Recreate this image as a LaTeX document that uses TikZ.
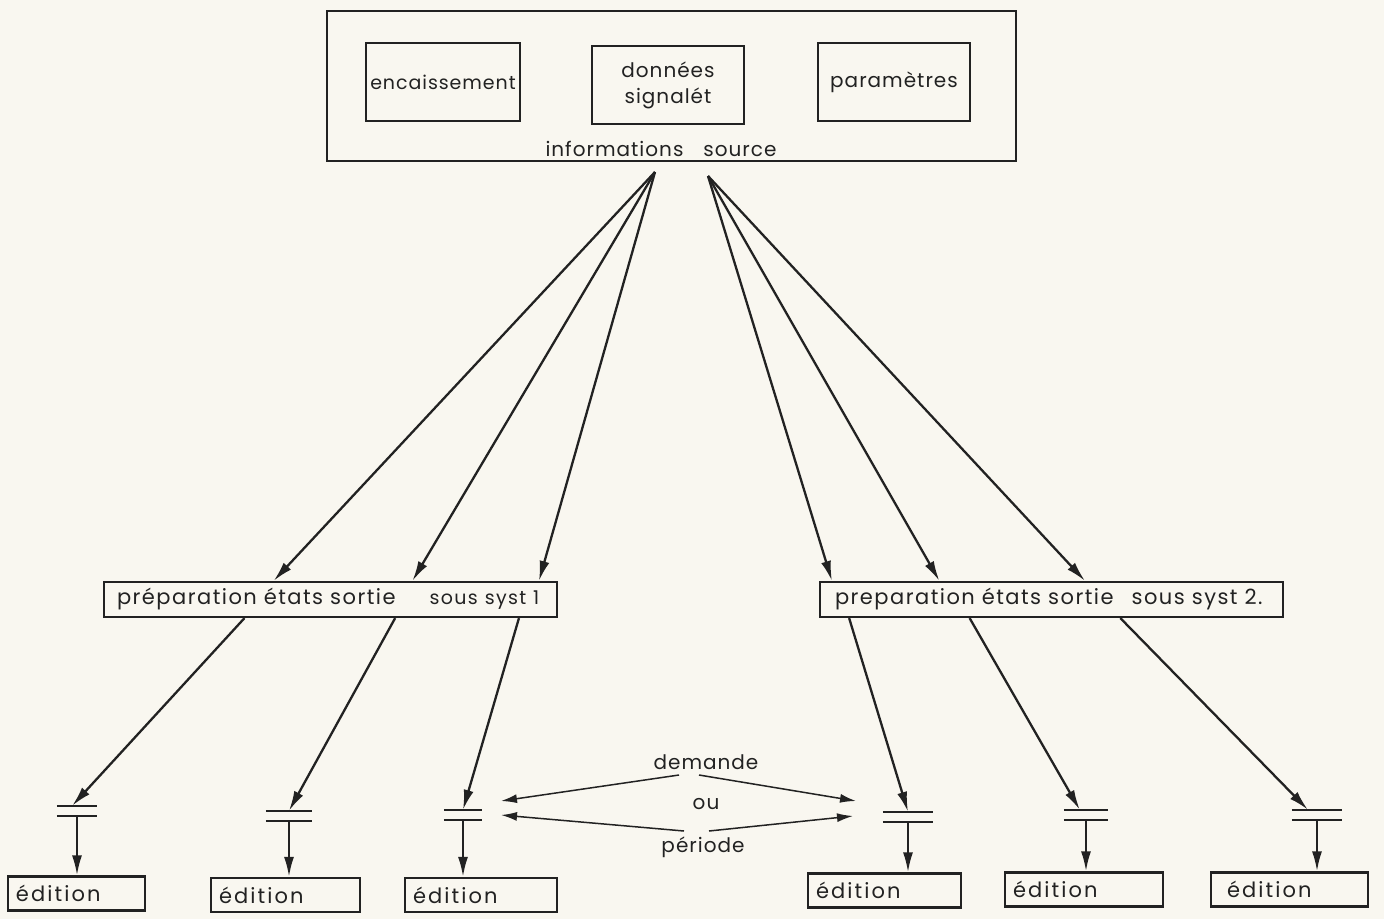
\documentclass[tikz,border=0pt]{standalone}
\usepackage{fontspec}
\setmainfont{Poppins}[LetterSpace=5]
\usetikzlibrary{arrows.meta,calc}
\definecolor{paper}{RGB}{249,247,240}
\definecolor{ink}{RGB}{34,34,34}

\begin{document}
\begin{tikzpicture}[x=1pt,y=-1pt,
  box/.style={draw=ink,line width=2.2pt,rectangle,inner sep=0pt,text=ink},
  txt/.style={text=ink,inner sep=0pt,font=\fontsize{20}{25}\selectfont},
  edbox/.style={box,minimum height=34pt,text width=#1-16pt,minimum width=#1,
                inner xsep=8pt,align=left,font=\fontsize{21}{24}\selectfont\addfontfeatures{LetterSpace=10}},
  flow/.style={draw=ink,line width=2.3pt,-{Latex[length=20pt,width=10pt]}},
  thin/.style={draw=ink,line width=1.5pt,-{Latex[length=16pt,width=9pt]}},
  trig/.style={minimum width=#1,minimum height=10pt,inner sep=0pt}
]
\fill[paper] (0,0) rectangle (1384,919);
\useasboundingbox (0,0) rectangle (1384,919);

% source information block
\node[box,minimum width=689pt,minimum height=150pt] (src) at (671.5,86) {};
\node[box,minimum width=154pt,minimum height=78pt,font=\fontsize{19}{25}\selectfont] (enc) at (443,82) {encaissement};
\node[box,minimum width=152pt,minimum height=78pt,align=center,font=\fontsize{20}{26}\selectfont] (don) at (668,85) {données\\signalét};
\node[box,minimum width=152pt,minimum height=78pt,font=\fontsize{20}{25}\selectfont] (par) at (894,82) {paramètres};
\node[txt] (srclbl) at (661,149) {informations\hspace{20pt}source};
\coordinate (srcL) at (655,172);
\coordinate (srcR) at (708,176);

% preparation bars
\node[box,minimum width=453pt,minimum height=35pt,
      font=\fontsize{21}{24}\selectfont\addfontfeatures{LetterSpace=7},
      text width=427pt,inner xsep=13pt,align=left] (lb) at (330.5,599.5)
  {préparation états sortie\hspace{34pt}{\fontsize{19}{20}\selectfont sous syst 1}};
\node[box,minimum width=463pt,minimum height=35pt,
      font=\fontsize{21}{24}\selectfont\addfontfeatures{LetterSpace=7},
      text width=441pt,inner xsep=11pt,align=left] (rb) at (1051.5,599.5)
  {\hspace{4pt}preparation états sortie\hspace{18pt}sous syst 2.};

% triggers
\node[trig=40pt] (t1) at (77,811) {};
\node[trig=46pt] (t2) at (289,816) {};
\node[trig=38pt] (t3) at (463,815) {};
\node[trig=50pt] (t4) at (908,817) {};
\node[trig=44pt] (t5) at (1086,815) {};
\node[trig=50pt] (t6) at (1317,815) {};
\foreach \t in {t1,t2,t3,t4,t5,t6}{
  \draw[ink,line width=2.3pt] (\t.north west) -- (\t.north east)
                              (\t.south west) -- (\t.south east);
}

% output boxes
\node[edbox=137pt] (e1) at (76.5,893.5) {édition};
\node[edbox=149pt] (e2) at (285.5,895) {édition};
\node[edbox=152pt] (e3) at (481,895) {édition};
\node[edbox=153pt] (e4) at (884.5,890.5) {édition};
\node[edbox=158pt] (e5) at (1084,889.5) {édition};
\node[edbox=157pt,text width=125pt,inner xsep=16pt] (e6) at (1289.5,889.5) {édition};

% source to preparation
\draw[flow] (srcL) -- ($(lb.north west)!0.375!(lb.north east)$);
\draw[flow] (srcL) -- ($(lb.north west)!0.68!(lb.north east)$);
\draw[flow] (srcL) -- ($(lb.north west)!0.958!(lb.north east)$);
\draw[flow] (srcR) -- ($(rb.north west)!0.028!(rb.north east)$);
\draw[flow] (srcR) -- ($(rb.north west)!0.259!(rb.north east)$);
\draw[flow] (srcR) -- ($(rb.north west)!0.572!(rb.north east)$);

% preparation to triggers
\draw[flow] ($(lb.south west)!0.311!(lb.south east)$) -- ($(t1.north west)!0.38!(t1.north east)$);
\draw[flow] ($(lb.south west)!0.642!(lb.south east)$) -- (t2.north);
\draw[flow] ($(lb.south west)!0.914!(lb.south east)$) -- (t3.north);
\draw[flow] ($(rb.south west)!0.065!(rb.south east)$) -- (t4.north);
\draw[flow] ($(rb.south west)!0.324!(rb.south east)$) -- ($(t5.north west)!0.36!(t5.north east)$);
\draw[flow] ($(rb.south west)!0.648!(rb.south east)$) -- ($(t6.north west)!0.32!(t6.north east)$);

% triggers to outputs
\foreach \i in {1,...,6}{
  \draw[flow] (t\i.south) -- (t\i.south |- e\i.north);
}

% release condition
\node[txt] (dem) at (706,762) {demande};
\node[txt] (ou) at (706,804) {ou};
\node[txt] (per) at (703,847) {période};
\coordinate (dl) at (679,775);
\coordinate (dr) at (699,775);
\coordinate (pl) at (684,831);
\coordinate (pr) at (709,831);
\coordinate (t3a) at (501,801);
\coordinate (t3b) at (501,815);
\coordinate (t4a) at (856,801);
\coordinate (t4b) at (853,816);
\draw[thin] (dl) -- (t3a);
\draw[thin] (pl) -- (t3b);
\draw[thin] (dr) -- (t4a);
\draw[thin] (pr) -- (t4b);
\end{tikzpicture}
\end{document}
